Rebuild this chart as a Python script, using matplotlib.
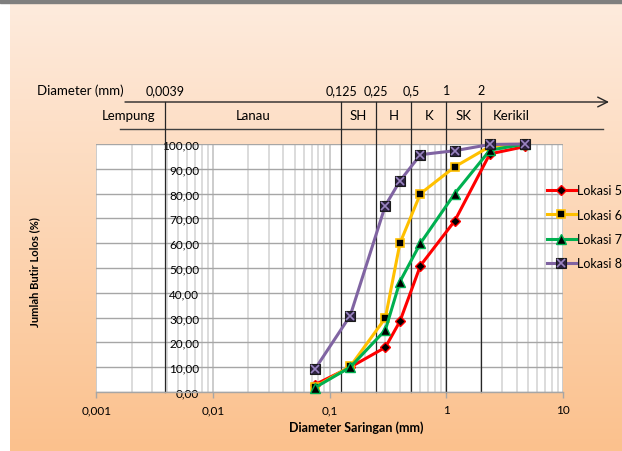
import numpy as np
import matplotlib
matplotlib.use("Agg")
import matplotlib.pyplot as plt
from matplotlib.colors import to_rgb
from matplotlib.patches import Rectangle
from matplotlib.ticker import LogLocator, NullFormatter, FixedLocator

plt.rcParams['font.family'] = ['Lato', 'DejaVu Sans']

# ---------------- data ----------------
sieve_mm = [0.075, 0.15, 0.3, 0.4, 0.6, 1.18, 2.36, 4.75]
lokasi_5 = [3.0, 10.0, 18.0, 28.5, 51.0, 69.0, 96.0, 99.0]
lokasi_6 = [2.0, 10.3, 29.8, 60.0, 80.0, 90.8, 99.0, 100.0]
lokasi_7 = [1.8, 10.0, 25.0, 44.5, 60.0, 80.0, 97.5, 100.0]
lokasi_8 = [9.3, 30.8, 75.2, 85.1, 95.7, 97.3, 99.8, 100.0]
series_names = ['Lokasi 5', 'Lokasi 6', 'Lokasi 7', 'Lokasi 8']

boundary_mm = [0.0039, 0.125, 0.25, 0.5, 1, 2]
boundary_labels = ['0,0039', '0,125', '0,25', '0,5', '1', '2']
class_names = ['Lempung', 'Lanau', 'SH', 'H', 'K', 'SK', 'Kerikil']
class_centers_mm = [0.0019, 0.022, 0.177, 0.354, 0.707, 1.414, 3.6]

x_ticks = [0.001, 0.01, 0.1, 1, 10]
x_tick_labels = ['0,001', '0,01', '0,1', '1', '10']
y_ticks = [0, 10, 20, 30, 40, 50, 60, 70, 80, 90, 100]
y_tick_labels = ['0,00', '10,00', '20,00', '30,00', '40,00', '50,00',
                 '60,00', '70,00', '80,00', '90,00', '100,00']

# ---------------- figure ----------------
W, H = 622, 452
fig = plt.figure(figsize=(W / 100, H / 100), dpi=100, facecolor='white')


def fx(px):
    return px / W


def fy(py):
    return 1 - py / H


# gradient background
bg = fig.add_axes([10 / W, 0, 1 - 10 / W, 1 - 4 / H])
bg.set_axis_off()
c_top = np.array(to_rgb('#FEEBDD'))
c_bot = np.array(to_rgb('#FBC18D'))
t = np.linspace(0, 1, 256)[:, None]
grad = c_top * (1 - t) + c_bot * t
bg.imshow(grad[:, None, :], aspect='auto', extent=[0, 1, 0, 1])
fig.patches.append(Rectangle((0, 1 - 4 / H), 1, 4 / H, transform=fig.transFigure,
                             color='#7f7f7f', zorder=5))

# main axes
L, R, T, B = 96.4, 563.0, 145.0, 393.0
ax = fig.add_axes([L / W, 1 - B / H, (R - L) / W, (B - T) / H])
ax.set_facecolor('white')
ax.set_xscale('log')
ax.set_xlim(0.001, 10)
ax.set_ylim(0, 100)

ax.xaxis.set_major_locator(FixedLocator(x_ticks))
ax.set_xticklabels(x_tick_labels)
ax.xaxis.set_minor_locator(LogLocator(base=10, subs=np.arange(2, 10)))
ax.xaxis.set_minor_formatter(NullFormatter())
ax.set_yticks(y_ticks)
ax.set_yticklabels(y_tick_labels)

ax.grid(which='major', axis='y', color='#a6a6a6', lw=1.0)
ax.grid(which='major', axis='x', color='#bfbfbf', lw=1.1)
ax.grid(which='minor', axis='x', color='#d9d9d9', lw=1.3)
ax.set_axisbelow(True)

ax.tick_params(axis='x', which='major', length=4, color='#a6a6a6', width=1,
               pad=5, labelsize=8.5)
ax.tick_params(axis='x', which='minor', length=0)
ax.tick_params(axis='y', length=0, pad=-74, labelsize=8.5)

for s in ['left', 'right', 'top']:
    ax.spines[s].set_visible(False)
ax.spines['bottom'].set_color('#a6a6a6')
ax.spines['bottom'].set_linewidth(1)


def ay(py):
    return (B - py) / (B - T)


def axf(px):
    return (px - L) / (R - L)


tr = ax.get_xaxis_transform()
line_col = '#262626'

# header: arrow + lines
ax.annotate('', xy=(axf(609), ay(103)), xytext=(axf(125), ay(103)),
            xycoords='axes fraction', annotation_clip=False,
            arrowprops=dict(arrowstyle='->,head_length=0.7,head_width=0.35',
                            lw=1.0, color=line_col, shrinkA=0, shrinkB=0))
ax.plot([axf(120), axf(603)], [ay(130), ay(130)], transform=ax.transAxes,
        clip_on=False, color='#404040', lw=1.0)
for b in boundary_mm:
    ax.plot([b, b], [ay(103), 0], transform=tr, clip_on=False, color=line_col,
            lw=0.9, zorder=2.2)
for b, lab in zip(boundary_mm, boundary_labels):
    ax.text(b, ay(91), lab, transform=tr, ha='center', va='center', fontsize=9)
ax.text(axf(80), ay(91), 'Diameter (mm)', transform=ax.transAxes, ha='center',
        va='center', fontsize=9.5)
for c, name in zip(class_centers_mm, class_names):
    ax.text(c, ay(116), name, transform=tr, ha='center', va='center', fontsize=9.5)

# data
h5, = ax.plot(sieve_mm, lokasi_5, color='#FF0000', lw=2.2, marker='D', ms=5,
              mfc='black', mec='#FF0000', mew=1.0, zorder=4)
h6, = ax.plot(sieve_mm, lokasi_6, color='#FFC000', lw=2.2, marker='s', ms=6,
              mfc='black', mec='#FFC000', mew=1.2, zorder=4)
h7, = ax.plot(sieve_mm, lokasi_7, color='#00B050', lw=2.2, marker='^', ms=6.5,
              mfc='black', mec='#00B050', mew=1.0, zorder=4)
h8, = ax.plot(sieve_mm, lokasi_8, color='#8064A2', lw=2.2, marker='s', ms=7.5,
              mfc='#2d2340', mec='#1a1a1a', mew=0.8, zorder=4)
h8x, = ax.plot(sieve_mm, lokasi_8, ls='none', marker='x', ms=5.5, mec='#9a84c2',
               mew=1.2, zorder=4.1)
for h in (h5, h6, h7, h8, h8x):
    h.set_clip_on(False)

# legend
fig.legend([h5, h6, h7, (h8, h8x)], series_names, loc='upper left',
           bbox_to_anchor=(fx(547), fy(185)), frameon=False, handlelength=2.3,
           handletextpad=0.12, labelspacing=1.0, borderpad=0, borderaxespad=0,
           fontsize=9)

# axis titles
fig.text(fx(356), fy(428), 'Diameter Saringan (mm)', ha='center', va='center',
         fontsize=9, fontweight='bold')
fig.text(fx(35), fy(272), 'Jumlah Butir Lolos (%)', ha='center', va='center',
         rotation=90, fontsize=8, fontweight='bold')

fig.savefig('out.png', dpi=100, facecolor='white')
